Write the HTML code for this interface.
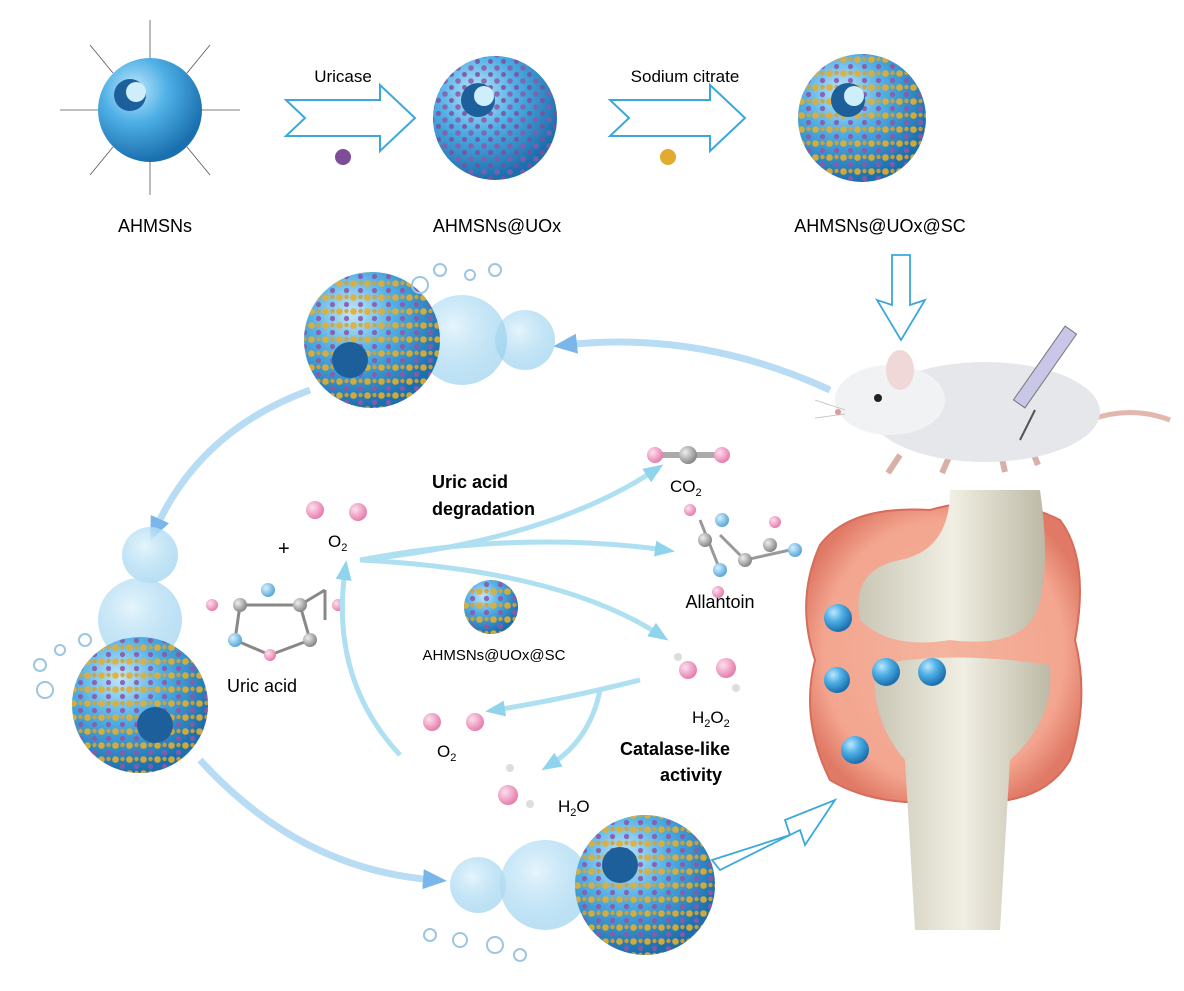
<!DOCTYPE html>
<html><head><meta charset="utf-8"><style>
html,body{margin:0;padding:0;background:#fff;}
svg{display:block;font-family:"Liberation Sans",sans-serif;}
</style></head><body>
<svg width="1184" height="991" viewBox="0 0 1184 991" xmlns="http://www.w3.org/2000/svg">
<defs>
<radialGradient id="sph" cx="35%" cy="30%" r="70%">
<stop offset="0" stop-color="#bfe6fb"/><stop offset="0.45" stop-color="#4fb0e6"/><stop offset="1" stop-color="#1a6fae"/></radialGradient>
<radialGradient id="ghost" cx="40%" cy="35%" r="70%">
<stop offset="0" stop-color="#e6f5fd"/><stop offset="1" stop-color="#8ccbec" stop-opacity="0.6"/></radialGradient>
<radialGradient id="pink" cx="50%" cy="50%" r="55%">
<stop offset="0" stop-color="#f4b49e"/><stop offset="0.8" stop-color="#f3a58f"/><stop offset="1" stop-color="#e07a66"/></radialGradient>
<linearGradient id="bone" x1="0" y1="0" x2="1" y2="0">
<stop offset="0" stop-color="#c9c6b5"/><stop offset="0.5" stop-color="#f1efe3"/><stop offset="1" stop-color="#bdb9a6"/></linearGradient>
<radialGradient id="mol" cx="35%" cy="35%" r="65%"><stop offset="0" stop-color="#fde0ee"/><stop offset="1" stop-color="#e67fae"/></radialGradient>
<radialGradient id="gray" cx="35%" cy="35%" r="65%"><stop offset="0" stop-color="#eee"/><stop offset="1" stop-color="#888"/></radialGradient>
<radialGradient id="blu" cx="35%" cy="35%" r="65%"><stop offset="0" stop-color="#d6f0ff"/><stop offset="1" stop-color="#5aa9d8"/></radialGradient>
<pattern id="dotsP" width="13" height="13" patternUnits="userSpaceOnUse"><circle cx="3" cy="3" r="2.8" fill="#8a5aa8"/><circle cx="9.5" cy="9.5" r="2.5" fill="#7f4d9d"/></pattern>
<pattern id="dotsO" width="14" height="14" patternUnits="userSpaceOnUse"><circle cx="3.5" cy="3.5" r="3.3" fill="#e5ad2f"/><circle cx="10.5" cy="10.5" r="2.6" fill="#8a5aa8"/><circle cx="10.5" cy="3" r="2.2" fill="#d9a12b"/></pattern>
<marker id="ah" markerUnits="userSpaceOnUse" markerWidth="20" markerHeight="20" refX="10" refY="10" orient="auto"><path d="M0,2 L20,10 L0,18 Z" fill="#8fd4ec"/></marker>
<marker id="ah2" markerUnits="userSpaceOnUse" markerWidth="24" markerHeight="24" refX="12" refY="12" orient="auto"><path d="M0,2 L24,12 L0,22 Z" fill="#5aa4e4"/></marker>
</defs>

<!-- top row -->
<g stroke="#555" stroke-width="0.8" fill="none">
<line x1="150" y1="58" x2="150" y2="20"/><line x1="150" y1="162" x2="150" y2="195"/>
<line x1="98" y1="110" x2="60" y2="110"/><line x1="202" y1="110" x2="240" y2="110"/>
<line x1="113" y1="73" x2="90" y2="45"/><line x1="187" y1="73" x2="210" y2="45"/>
<line x1="113" y1="147" x2="90" y2="175"/><line x1="187" y1="147" x2="210" y2="175"/>
</g>
<circle cx="150" cy="110" r="52" fill="url(#sph)"/>
<circle cx="130" cy="95" r="16" fill="#1d5f9a"/><circle cx="136" cy="92" r="10" fill="#cfeefc"/>
<text x="155" y="232" font-size="18" text-anchor="middle">AHMSNs</text>

<path d="M286,100 L380,100 L380,85 L415,118 L380,151 L380,136 L286,136 L305,118 Z" fill="#fff" stroke="#3aa8dc" stroke-width="2"/>
<text x="343" y="82" font-size="17" text-anchor="middle">Uricase</text>
<circle cx="343" cy="157" r="8" fill="#7d4d98"/>

<circle cx="495" cy="118" r="62" fill="url(#sph)"/>
<circle cx="495" cy="118" r="62" fill="url(#dotsP)" opacity="0.85"/>
<circle cx="478" cy="100" r="17" fill="#1d5f9a"/><circle cx="484" cy="96" r="10" fill="#cfeefc"/>
<text x="497" y="232" font-size="18" text-anchor="middle">AHMSNs@UOx</text>

<path d="M610,100 L710,100 L710,85 L745,118 L710,151 L710,136 L610,136 L629,118 Z" fill="#fff" stroke="#3aa8dc" stroke-width="2"/>
<text x="685" y="82" font-size="17" text-anchor="middle">Sodium citrate</text>
<circle cx="668" cy="157" r="8" fill="#e2aa2e"/>

<circle cx="862" cy="118" r="64" fill="url(#sph)"/>
<circle cx="862" cy="118" r="64" fill="url(#dotsO)" opacity="0.9"/>
<circle cx="848" cy="100" r="17" fill="#1d5f9a"/><circle cx="854" cy="96" r="10" fill="#cfeefc"/>
<text x="880" y="232" font-size="18" text-anchor="middle">AHMSNs@UOx@SC</text>

<path d="M892,255 L910,255 L910,305 L925,300 L901,340 L877,300 L892,305 Z" fill="#fff" stroke="#3aa8dc" stroke-width="1.8"/>

<!-- mouse -->
<path d="M1090,420 Q1130,405 1170,420" stroke="#e2b7ad" stroke-width="5" fill="none"/>
<path d="M900,455 l-12,18 M950,455 l-8,18 M1000,450 l5,22 M1030,445 l8,20" stroke="#d8b0a8" stroke-width="6"/>
<ellipse cx="985" cy="412" rx="115" ry="50" fill="#e6e7ea"/>
<ellipse cx="890" cy="400" rx="55" ry="35" fill="#f1f2f3"/>
<ellipse cx="900" cy="370" rx="14" ry="20" fill="#f0d8d8"/>
<circle cx="878" cy="398" r="4" fill="#222"/>
<circle cx="838" cy="412" r="3" fill="#d99"/>
<g stroke="#bbb" stroke-width="0.8"><line x1="845" y1="410" x2="815" y2="400"/><line x1="845" y1="414" x2="815" y2="418"/></g>
<rect x="1000" y="360" width="90" height="14" fill="#c9c7e8" stroke="#777" transform="rotate(-55 1045 367)"/>
<line x1="1020" y1="440" x2="1035" y2="410" stroke="#555" stroke-width="2"/>

<!-- curved arrows -->
<path d="M830,390 Q700,330 565,345" stroke="#a6d4f2" stroke-width="7" fill="none" opacity="0.8" marker-end="url(#ah2)"/>
<path d="M310,390 Q200,430 155,530" stroke="#a6d4f2" stroke-width="7" fill="none" opacity="0.8" marker-end="url(#ah2)"/>
<path d="M200,760 Q300,870 435,880" stroke="#a6d4f2" stroke-width="7" fill="none" opacity="0.8" marker-end="url(#ah2)"/>
<path d="M712,860 L790,835 L785,820 L835,800 L805,845 L800,830 L720,870 Z" fill="#fff" stroke="#3aa8dc" stroke-width="1.8"/>

<!-- top-left sphere group -->
<circle cx="525" cy="340" r="30" fill="url(#ghost)"/>
<circle cx="462" cy="340" r="45" fill="url(#ghost)"/>
<circle cx="372" cy="340" r="68" fill="url(#sph)"/>
<circle cx="372" cy="340" r="68" fill="url(#dotsO)" opacity="0.9"/>
<circle cx="350" cy="360" r="18" fill="#1d5f9a"/>
<g fill="none" stroke="#9cc6e0" stroke-width="2"><circle cx="420" cy="285" r="8"/><circle cx="440" cy="270" r="6"/><circle cx="470" cy="275" r="5"/><circle cx="495" cy="270" r="6"/></g>

<!-- left column -->
<circle cx="150" cy="555" r="28" fill="url(#ghost)"/>
<circle cx="140" cy="620" r="42" fill="url(#ghost)"/>
<circle cx="140" cy="705" r="68" fill="url(#sph)"/>
<circle cx="140" cy="705" r="68" fill="url(#dotsO)" opacity="0.9"/>
<circle cx="155" cy="725" r="18" fill="#1d5f9a"/>
<g fill="none" stroke="#9cc6e0" stroke-width="2"><circle cx="45" cy="690" r="8"/><circle cx="40" cy="665" r="6"/><circle cx="60" cy="650" r="5"/><circle cx="85" cy="640" r="6"/></g>

<!-- bottom -->
<circle cx="478" cy="885" r="28" fill="url(#ghost)"/>
<circle cx="545" cy="885" r="45" fill="url(#ghost)"/>
<circle cx="645" cy="885" r="70" fill="url(#sph)"/>
<circle cx="645" cy="885" r="70" fill="url(#dotsO)" opacity="0.9"/>
<circle cx="620" cy="865" r="18" fill="#1d5f9a"/>
<g fill="none" stroke="#9cc6e0" stroke-width="2"><circle cx="430" cy="935" r="6"/><circle cx="460" cy="940" r="7"/><circle cx="495" cy="945" r="8"/><circle cx="520" cy="955" r="6"/></g>

<!-- joint -->
<path d="M820,545 Q850,505 930,510 Q1000,490 1060,520 Q1090,560 1075,640 Q1090,700 1070,760 Q1040,810 960,800 Q880,810 830,780 Q800,720 815,660 Q795,600 820,545 Z" fill="url(#pink)" stroke="#d76c5a" stroke-width="2"/>
<path d="M950,490 L1040,490 Q1050,560 1040,600 Q1030,650 950,640 Q890,650 860,620 Q850,570 900,560 Q950,550 950,490 Z" fill="url(#bone)"/>
<path d="M875,665 Q950,650 1050,665 Q1055,720 1010,760 L1000,930 L915,930 L905,760 Q870,720 875,665 Z" fill="url(#bone)"/>
<g fill="url(#sph)"><circle cx="838" cy="618" r="14"/><circle cx="837" cy="680" r="13"/><circle cx="886" cy="672" r="14"/><circle cx="932" cy="672" r="14"/><circle cx="855" cy="750" r="14"/></g>

<!-- center reaction -->
<text x="432" y="488" font-size="18" font-weight="bold">Uric acid</text>
<text x="432" y="515" font-size="18" font-weight="bold">degradation</text>
<text x="278" y="555" font-size="20">+</text>
<circle cx="315" cy="510" r="9" fill="url(#mol)"/><circle cx="358" cy="512" r="9" fill="url(#mol)"/>
<text x="328" y="547" font-size="17">O<tspan font-size="11" dy="4">2</tspan></text>
<g stroke="#888" stroke-width="3">
<line x1="240" y1="605" x2="300" y2="605"/><line x1="240" y1="605" x2="235" y2="640"/><line x1="300" y1="605" x2="310" y2="640"/><line x1="235" y1="640" x2="270" y2="655"/><line x1="310" y1="640" x2="270" y2="655"/><line x1="300" y1="605" x2="325" y2="590"/><line x1="325" y1="590" x2="325" y2="620"/>
</g>
<circle cx="212" cy="605" r="6" fill="url(#mol)"/><circle cx="240" cy="605" r="7" fill="url(#gray)"/><circle cx="268" cy="590" r="7" fill="url(#blu)"/><circle cx="300" cy="605" r="7" fill="url(#gray)"/><circle cx="235" cy="640" r="7" fill="url(#blu)"/><circle cx="310" cy="640" r="7" fill="url(#gray)"/><circle cx="270" cy="655" r="6" fill="url(#mol)"/><circle cx="338" cy="605" r="6" fill="url(#mol)"/>
<text x="262" y="692" font-size="18" text-anchor="middle">Uric acid</text>

<circle cx="491" cy="607" r="27" fill="url(#sph)"/><circle cx="491" cy="607" r="27" fill="url(#dotsO)" opacity="0.9"/>
<text x="494" y="660" font-size="15" text-anchor="middle">AHMSNs@UOx@SC</text>

<g stroke="#aee0f1" stroke-width="5" fill="none">
<path d="M360,560 Q550,540 655,470" marker-end="url(#ah)"/>
<path d="M360,560 Q520,530 665,550" marker-end="url(#ah)"/>
<path d="M360,560 Q560,570 660,635" marker-end="url(#ah)"/>
<path d="M640,680 Q560,700 495,710" marker-end="url(#ah)"/>
<path d="M600,690 Q590,740 550,765" marker-end="url(#ah)"/>
<path d="M400,755 Q330,680 345,570" marker-end="url(#ah)"/>
</g>

<line x1="650" y1="455" x2="720" y2="455" stroke="#aaa" stroke-width="6"/>
<circle cx="655" cy="455" r="8" fill="url(#mol)"/><circle cx="688" cy="455" r="9" fill="url(#gray)"/><circle cx="722" cy="455" r="8" fill="url(#mol)"/>
<text x="670" y="492" font-size="17">CO<tspan font-size="11" dy="4">2</tspan></text>

<g stroke="#999" stroke-width="3"><line x1="700" y1="520" x2="720" y2="570"/><line x1="720" y1="535" x2="745" y2="560"/><line x1="745" y1="560" x2="790" y2="550"/></g>
<circle cx="690" cy="510" r="6" fill="url(#mol)"/><circle cx="705" cy="540" r="7" fill="url(#gray)"/><circle cx="722" cy="520" r="7" fill="url(#blu)"/><circle cx="745" cy="560" r="7" fill="url(#gray)"/><circle cx="720" cy="570" r="7" fill="url(#blu)"/><circle cx="718" cy="592" r="6" fill="url(#mol)"/><circle cx="770" cy="545" r="7" fill="url(#gray)"/><circle cx="795" cy="550" r="7" fill="url(#blu)"/><circle cx="775" cy="522" r="6" fill="url(#mol)"/>
<text x="720" y="608" font-size="18" text-anchor="middle">Allantoin</text>

<circle cx="688" cy="670" r="9" fill="url(#mol)"/><circle cx="726" cy="668" r="10" fill="url(#mol)"/><circle cx="678" cy="657" r="4" fill="#ddd"/><circle cx="736" cy="688" r="4" fill="#ddd"/>
<text x="692" y="723" font-size="17">H<tspan font-size="11" dy="4">2</tspan><tspan dy="-4">O</tspan><tspan font-size="11" dy="4">2</tspan></text>
<text x="620" y="755" font-size="18" font-weight="bold">Catalase-like</text>
<text x="660" y="781" font-size="18" font-weight="bold">activity</text>

<circle cx="432" cy="722" r="9" fill="url(#mol)"/><circle cx="475" cy="722" r="9" fill="url(#mol)"/>
<text x="437" y="757" font-size="17">O<tspan font-size="11" dy="4">2</tspan></text>
<circle cx="508" cy="795" r="10" fill="url(#mol)"/><circle cx="510" cy="768" r="4" fill="#ddd"/><circle cx="530" cy="804" r="4" fill="#ddd"/>
<text x="558" y="812" font-size="17">H<tspan font-size="11" dy="4">2</tspan><tspan dy="-4">O</tspan></text>
</svg>
</body></html>
